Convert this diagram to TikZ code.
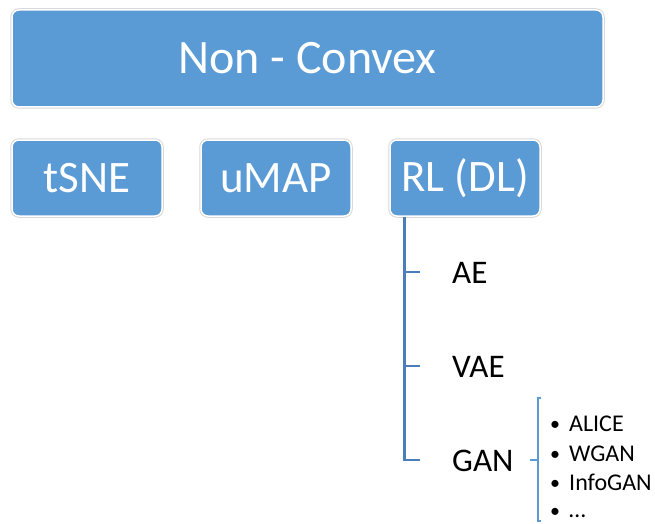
\documentclass[tikz,border=0pt]{standalone}
\usepackage{fontspec}
\setmainfont{Carlito}
\usetikzlibrary{calc}
\definecolor{boxblue}{HTML}{5B9BD5}
\definecolor{treeblue}{HTML}{4A7EBB}
\definecolor{edgegray}{HTML}{D9D9D9}
\tikzset{
  x=1pt, y=-1pt,
  bluebox/.style={rectangle, rounded corners=7pt, fill=boxblue, draw=white,
    line width=1.5pt, text=white, inner sep=0pt,
    preaction={draw=edgegray, line width=3.5pt}},
  leaf/.style={anchor=base west, inner sep=0pt, text=black, font=\fontsize{33}{36}\selectfont},
  item/.style={anchor=base west, inner sep=0pt, text=black, font=\fontsize{24}{26}\selectfont},
  dotmark/.style={anchor=base west, inner sep=0pt, text=black, font=\fontsize{20}{22}\selectfont},
  trunk/.style={draw=treeblue, line width=2.8pt},
  bracket/.style={draw=boxblue, line width=1.2pt}
}
\begin{document}
\begin{tikzpicture}
\useasboundingbox (0,0) rectangle (655,524);
% top category
\node[bluebox, minimum width=591pt, minimum height=97pt, font=\fontsize{48}{52}\selectfont]
  (nc) at (307.5,58.5) {Non - Convex};
% second row
\node[bluebox, minimum width=150pt, minimum height=76pt, font=\fontsize{45}{48}\selectfont]
  (tsne) at (87,178) {tSNE};
\node[bluebox, minimum width=150pt, minimum height=76pt, font=\fontsize{45}{48}\selectfont]
  (umap) at (276,178) {uMAP};
\node[bluebox, minimum width=150pt, minimum height=76pt, font=\fontsize{45}{48}\selectfont]
  (rl) at (465,178) {RL (DL)};
% leaves under RL (DL)
\node[leaf] (ae) at (452,283) {AE};
\node[leaf] (vae) at (452,377) {VAE};
\node[leaf] (gan) at (452,471) {GAN};
% tree connector
\coordinate (top) at ($(rl.south west)+(15,0)$);
\coordinate (ta) at (420,272);
\coordinate (tv) at (420,366);
\coordinate (tg) at (420,460);
\draw[trunk] (top) |- (tg);
\draw[trunk] (top |- ta) -- (ta);
\draw[trunk] (top |- tv) -- (tv);
% bracket beside GAN
\coordinate (bt) at (541,398);
\coordinate (bb) at (541,521);
\coordinate (bm) at (530,460);
\draw[bracket] (bt) -- ++(-3,0) |- (bb);
\draw[bracket] (bm) -- ++(8,0);
% list of GAN variants
\node[dotmark] (b1) at (550,430) {•};
\node[dotmark] (b2) at (550,460) {•};
\node[dotmark] (b3) at (550,489) {•};
\node[dotmark] (b4) at (550,517) {•};
\node[item] (alice) at (569,431) {ALICE};
\node[item] (wgan) at (569,461) {WGAN};
\node[item] (info) at (569,490) {InfoGAN};
\node[item] (dots) at (569,517) {…};
\end{tikzpicture}
\end{document}
